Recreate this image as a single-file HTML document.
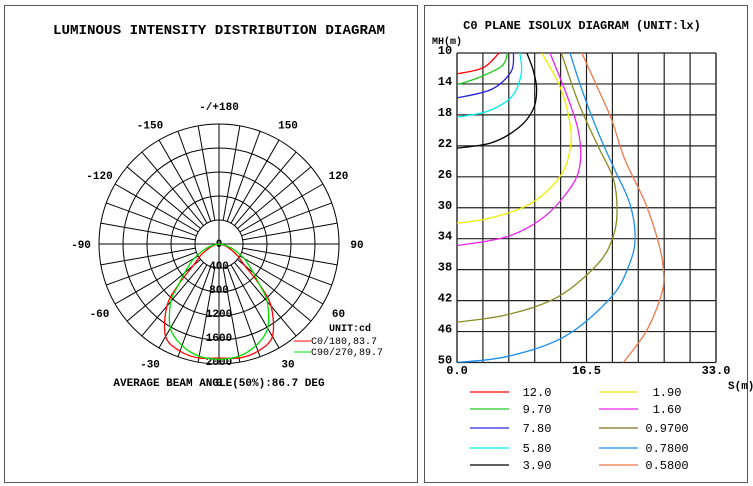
<!DOCTYPE html>
<html><head><meta charset="utf-8"><style>
body{margin:0;background:#fff;}
svg{display:block;font-family:"Liberation Mono",monospace;font-weight:bold;}
</style></head><body>
<svg width="753" height="486" viewBox="0 0 753 486">
<rect x="4.5" y="5.5" width="413" height="477" fill="none" stroke="#555"/>
<rect x="424.5" y="5.5" width="323" height="477" fill="none" stroke="#555"/>
<text x="219" y="34" font-size="14.2" text-anchor="middle">LUMINOUS INTENSITY DISTRIBUTION DIAGRAM</text>
<g id="polar"></g>
<text x="582" y="29" font-size="12" text-anchor="middle">C0 PLANE ISOLUX DIAGRAM (UNIT:lx)</text>
<g id="iso"></g>
</svg>
<script>
const NS="http://www.w3.org/2000/svg";
function mk(p,t,a,txt){const e=document.createElementNS(NS,t);for(const k in a)e.setAttribute(k,a[k]);if(txt!==undefined)e.textContent=txt;p.appendChild(e);return e;}
function smooth(pts){let d="M"+pts[0][0]+","+pts[0][1];for(let i=0;i<pts.length-1;i++){const p0=pts[i-1]||pts[i],p1=pts[i],p2=pts[i+1],p3=pts[i+2]||p2;
d+=" C"+(p1[0]+(p2[0]-p0[0])/6)+","+(p1[1]+(p2[1]-p0[1])/6)+" "+(p2[0]-(p3[0]-p1[0])/6)+","+(p2[1]-(p3[1]-p1[1])/6)+" "+p2[0]+","+p2[1];}return d;}

// ---- Polar data ----
const polarAngles=[0,10,20,30,40,45,50,55,60,70,80,90];
const c0Values=[1900,1930,1900,1780,1350,950,560,420,320,150,50,0];
const c90Values=[1920,1900,1800,1620,1250,950,750,600,480,250,80,0];
const ringValues=[400,800,1200,1600,2000];
const ringLabels=["0","400","800","1200","1600","2000"];
const angleLabels=["0","30","60","90","120","150","-/+180","-150","-120","-90","-60","-30"];
const angleLabelDeg=[0,30,60,90,120,150,180,-150,-120,-90,-60,-30];

const P=document.getElementById('polar');
const cx=219,cy=244,R=120,maxV=2000;
const rs=v=>v/maxV*R;
function pt(deg,v){const a=deg*Math.PI/180;return [cx+Math.sin(a)*rs(v),cy+Math.cos(a)*rs(v)];}
ringValues.forEach((v,i)=>{const c=mk(P,'circle',{cx,cy,r:rs(v),fill:'none',stroke:'#000','stroke-width':1});

});
for(let d=0;d<360;d+=10){const main=d%90===0;const a=pt(d,main?0:ringValues[0]),b=pt(d,maxV);
const l=mk(P,'line',{x1:a[0],y1:a[1],x2:b[0],y2:b[1],stroke:'#000','stroke-width':1});

}
angleLabelDeg.forEach((d,i)=>{const p=pt(d,maxV*1.15);
const t=mk(P,'text',{x:p[0],y:p[1]+4,'font-size':11,'text-anchor':'middle'},angleLabels[i]);

});
ringLabels.forEach((s,i)=>{const t=mk(P,'text',{x:cx,y:cy+i*24+3-(i?2:0),'font-size':11,'text-anchor':'middle'},s);

});
function polarCurve(vals,col,name){const pts=[];for(let i=polarAngles.length-1;i>=0;i--)pts.push(pt(-polarAngles[i],vals[i]));
for(let i=1;i<polarAngles.length;i++)pts.push(pt(polarAngles[i],vals[i]));
const p=mk(P,'path',{d:smooth(pts),fill:'none',stroke:col,'stroke-width':1.3});

}
polarCurve(c0Values,'#f00','c0-180-curve');
polarCurve(c90Values,'#0d0','c90-270-curve');
let t=mk(P,'text',{x:329,y:331,'font-size':10},'UNIT:cd');
let l=mk(P,'line',{x1:294,y1:341,x2:311,y2:341,stroke:'#f00'});
t=mk(P,'text',{x:311,y:344,'font-size':10,'font-weight':'normal'},'C0/180,83.7');
l=mk(P,'line',{x1:294,y1:352,x2:311,y2:352,stroke:'#0d0'});
t=mk(P,'text',{x:311,y:355,'font-size':10,'font-weight':'normal'},'C90/270,89.7');
t=mk(P,'text',{x:219,y:386,'font-size':11,'text-anchor':'middle'},'AVERAGE BEAM ANGLE(50%):86.7 DEG');

// ---- Isolux data ----
const isoLevels=["12.0","9.70","7.80","5.80","3.90","1.90","1.60","0.9700","0.7800","0.5800"];
const isoColors=["#f00","#2c2","#22d","#0ee","#000","#ee0","#e2e","#8a8a20","#1a8ef0","#f07848"];
const isoSwatch=["#f00","#2c2","#7a7aee","#0ee","#000","#ee0","#e2e","#aaa870","#1a8ef0","#f07848"];
const isoS=[
[0,3.35,5.35],
[0,2.7,5.7,6.45],
[0,4.4,6.9,7.2],
[0,4.0,7.0,8.2,8.0],
[0,4.4,7.8,9.7,10.15,9.7,8.9],
[0,4.4,9.5,13.1,14.4,14.4,13.1,10.8],
[0,6.5,11.2,14.6,15.7,15.5,14.2,11.85],
[0,6.5,12.9,18,19.9,20.4,19.9,18,15.5,13.3],
[0,6.5,13.8,19.7,22,22.7,22,20.1,18,15.9,14.4],
[21.2,24.2,26.1,26.3,25.7,24,21.4,19.7,18,15.9]];
const isoMH=[
[12.7,11.9,10],
[14.1,13.2,11.7,10],
[15.8,14.7,12.4,10],
[18.3,17.5,15.6,12.6,10],
[22.3,21.6,19.7,17.3,14.7,12.2,10],
[32,31.3,29.4,26,22.5,19.1,14.3,10],
[34.9,33.7,31.1,27.2,24.2,20.3,16,10],
[44.8,43.8,41.5,37.2,33.7,30.3,26.2,22.1,16.5,10],
[50,49.2,46.6,41.5,37.2,33.7,29.4,25.1,20.3,14.7,10],
[50,45.8,41,38,34.6,29.4,23.8,18.6,14.7,10]];
const xTicks=["0.0","16.5","33.0"], xTickVals=[0,16.5,33];
const yTicks=[10,14,18,22,26,30,34,38,42,46,50];

const I=document.getElementById('iso');
const gx0=457,gx1=716,gy0=53,gy1=362.5;
const sx=m=>gx0+m/33*(gx1-gx0), sy=h=>gy0+(h-10)/40*(gy1-gy0);
mk(I,'clipPath',{id:'gclip'}).appendChild(document.createElementNS(NS,'rect'));
const cr=I.querySelector('#gclip rect');cr.setAttribute('x',gx0);cr.setAttribute('y',gy0);cr.setAttribute('width',gx1-gx0);cr.setAttribute('height',gy1-gy0);
for(let i=0;i<=10;i++){const x=gx0+i*(gx1-gx0)/10;
l=mk(I,'line',{x1:x,y1:gy0,x2:x,y2:gy1,stroke:i==0||i==10?'#000':'#222','stroke-width':i==0||i==10?1.2:1.2});}
yTicks.forEach(h=>{const y=sy(h);
l=mk(I,'line',{x1:gx0,y1:y,x2:gx1,y2:y,stroke:'#222','stroke-width':1.2});
t=mk(I,'text',{x:445,y:y+1,'font-size':12,'text-anchor':'middle'},String(h));});
t=mk(I,'text',{x:432,y:44,'font-size':10},'MH(m)');
xTicks.forEach((s,i)=>{t=mk(I,'text',{x:sx(xTickVals[i]),y:374,'font-size':12,'text-anchor':'middle'},s);});
t=mk(I,'text',{x:728,y:389,'font-size':11},'S(m)');
isoLevels.forEach((lv,i)=>{const pts=isoS[i].map((s,j)=>[sx(s),sy(isoMH[i][j])]);
const p=mk(I,'path',{d:smooth(pts),fill:'none',stroke:isoColors[i],'stroke-width':1.3,'clip-path':'url(#gclip)'});


const col=i<5?0:1,row=i%5;const ly=[392,409,428,448,465][row];const lx=col?599:470;
const sw=mk(I,'line',{x1:lx,y1:ly,x2:lx+39,y2:ly,stroke:isoSwatch[i],'stroke-width':i==2||i==7?2:1.2});


const tx=mk(I,'text',{x:col?667:537,y:ly+4,'font-size':12,'text-anchor':'middle','font-weight':'normal'},lv);

});
</script>
</body></html>
